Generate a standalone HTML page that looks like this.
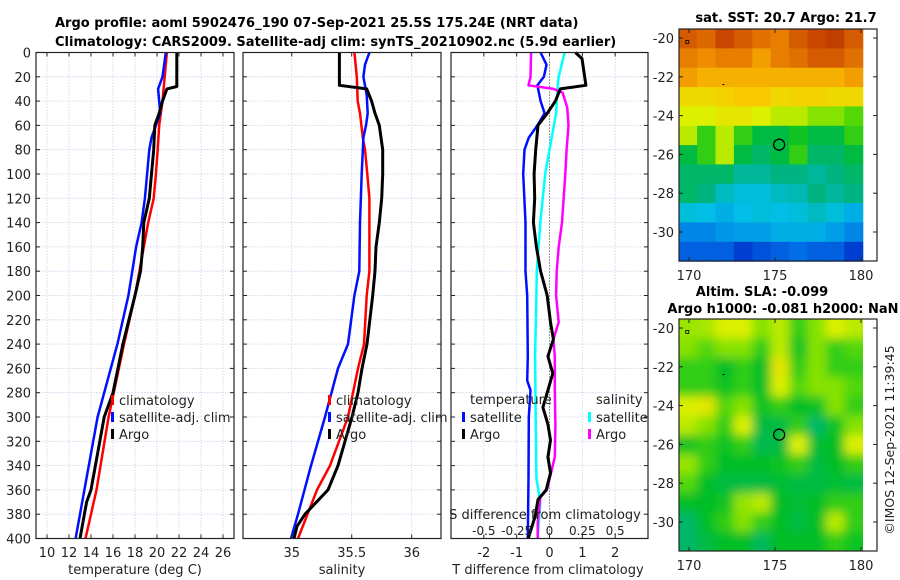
<!DOCTYPE html>
<html><head><meta charset="utf-8">
<style>
html,body{margin:0;padding:0;background:#fff;}
svg{display:block;font-family:"DejaVu Sans","Liberation Sans",sans-serif;}
</style></head>
<body>
<svg id="fig" width="900" height="580" viewBox="0 0 900 580">
<defs>
<filter id="blur" x="-10%" y="-10%" width="120%" height="120%"><feGaussianBlur stdDeviation="5"/></filter>
<clipPath id="slaclip"><rect x="679" y="319" width="184" height="232"/></clipPath>
</defs>
<rect x="0" y="0" width="900" height="580" fill="#fff"/>
<text x="55" y="27" font-size="13" font-weight="bold">Argo profile: aoml 5902476_190 07-Sep-2021 25.5S 175.24E (NRT data)</text>
<text x="55" y="46" font-size="13" font-weight="bold">Climatology: CARS2009. Satellite-adj clim: synTS_20210902.nc (5.9d earlier)</text>
<text x="786" y="22" text-anchor="middle" font-size="13" font-weight="bold">sat. SST: 20.7 Argo: 21.7</text>
<text x="762" y="296" text-anchor="middle" font-size="13" font-weight="bold">Altim. SLA: -0.099</text>
<text x="783" y="313" text-anchor="middle" font-size="13" font-weight="bold">Argo h1000: -0.081 h2000: NaN</text>
<text x="0" y="0" transform="translate(894,440) rotate(-90)" text-anchor="middle" font-size="12.5" fill="#222">©IMOS 12-Sep-2021 11:39:45</text>
<g id="layer"></g>
</svg>
<script>
// ---------- profile data ----------
const depthClimT = [0,40,60,80,100,120,140,160,180,200,240,300,360,400];
const tempClim   = [20.9,20.5,20.2,20.06,19.9,19.7,19.2,18.8,18.4,18.0,17.0,15.6,14.5,13.5];
const depthSatT  = [0,20,30,40,50,60,70,80,100,120,140,160,180,200,240,300,360,400];
const tempSat    = [20.8,20.5,20.1,20.2,20.3,19.9,19.5,19.3,19.1,18.9,18.6,18.1,17.75,17.4,16.4,14.6,13.4,12.6];
const depthArgoT = [0,28,30,35,40,50,60,80,100,120,140,160,180,200,240,280,300,360,370,400];
const tempArgo   = [21.8,21.8,20.9,20.7,20.5,20.2,19.8,19.7,19.5,19.3,18.8,18.7,18.5,18.0,16.9,16.0,15.2,14.0,13.6,13.0];

const depthClimS = [0,20,40,50,70,80,100,120,140,160,180,200,240,260,300,340,360,400];
const salClim    = [35.522,35.542,35.550,35.569,35.592,35.611,35.630,35.647,35.647,35.647,35.647,35.625,35.602,35.552,35.469,35.319,35.211,35.052];
const depthSatS  = [0,10,20,35,50,60,70,100,140,180,200,240,260,300,340,380,400];
const salSat     = [35.647,35.611,35.597,35.625,35.633,35.619,35.597,35.583,35.569,35.563,35.522,35.469,35.386,35.277,35.161,35.052,34.994];
const depthArgoS = [0,27,30,40,50,60,80,100,120,140,160,180,200,240,260,280,300,340,360,380,390,400];
const salArgo    = [35.397,35.397,35.625,35.666,35.694,35.730,35.758,35.758,35.750,35.730,35.702,35.694,35.675,35.627,35.586,35.552,35.502,35.386,35.302,35.111,35.044,35.019];

const depthDT    = [0,10,20,27,40,50,60,70,80,100,140,180,200,250,270,278,300,350,400];
const dTSat      = [-0.27,-0.09,-0.17,-0.37,-0.27,-0.15,-0.37,-0.63,-0.76,-0.8,-0.73,-0.73,-0.68,-0.66,-0.68,-0.58,-0.63,-0.64,-0.66];
const depthDTA   = [0,5,27,30,40,50,60,80,100,120,140,160,180,200,222,236,250,264,278,292,306,319,333,346,360,368,382,400];
const dTArgo     = [0.79,0.99,1.11,0.33,0.18,-0.07,-0.35,-0.42,-0.47,-0.45,-0.49,-0.4,-0.27,-0.07,0.03,0.12,-0.05,0.1,-0.05,-0.2,-0.05,0.03,-0.05,0.03,-0.1,-0.35,-0.44,-0.65];
const depthDS    = [0,20,30,50,80,100,140,180,200,250,300,350,370,400];
const dSSat      = [0.115,0.07,0.06,0.05,0.0,-0.033,-0.07,-0.097,-0.1,-0.11,-0.105,-0.1,-0.07,-0.09];
const depthDSA   = [0,20,27,30,33,45,60,80,100,140,160,180,200,222,236,250,278,306,333,360,366,387,400];
const dSArgo     = [-0.14,-0.145,-0.16,0.03,0.1,0.135,0.145,0.13,0.12,0.095,0.07,0.055,0.05,0.07,0.03,0.04,0.04,0.045,0.04,-0.02,-0.07,-0.09,-0.09];

// ---------- map data (palette index 0..1) ----------
const sstGrid = [
 [0.85,0.83,0.88,0.85,0.82,0.80,0.85,0.88,0.90,0.85],
 [0.80,0.78,0.80,0.80,0.75,0.80,0.82,0.85,0.85,0.82],
 [0.75,0.72,0.72,0.72,0.72,0.72,0.72,0.72,0.72,0.75],
 [0.65,0.65,0.66,0.68,0.68,0.65,0.66,0.66,0.65,0.65],
 [0.60,0.60,0.62,0.62,0.60,0.58,0.58,0.55,0.55,0.52],
 [0.58,0.50,0.58,0.50,0.45,0.45,0.48,0.45,0.45,0.50],
 [0.45,0.50,0.58,0.45,0.42,0.45,0.50,0.42,0.42,0.45],
 [0.42,0.42,0.42,0.38,0.38,0.40,0.40,0.38,0.40,0.42],
 [0.42,0.40,0.35,0.33,0.33,0.35,0.36,0.40,0.38,0.40],
 [0.33,0.32,0.30,0.32,0.33,0.32,0.33,0.35,0.33,0.30],
 [0.25,0.25,0.27,0.28,0.28,0.30,0.30,0.30,0.28,0.25],
 [0.20,0.20,0.20,0.15,0.18,0.20,0.22,0.20,0.20,0.15]];
const slaGrid = [
 [0.56,0.57,0.60,0.60,0.55,0.58,0.50,0.55,0.60,0.58],
 [0.55,0.52,0.55,0.55,0.50,0.58,0.48,0.55,0.50,0.52],
 [0.50,0.50,0.47,0.50,0.47,0.62,0.50,0.55,0.50,0.50],
 [0.50,0.50,0.48,0.50,0.47,0.60,0.52,0.55,0.55,0.52],
 [0.60,0.62,0.52,0.55,0.48,0.50,0.47,0.48,0.55,0.50],
 [0.58,0.55,0.50,0.60,0.45,0.45,0.50,0.42,0.48,0.55],
 [0.48,0.50,0.48,0.50,0.44,0.45,0.60,0.46,0.47,0.60],
 [0.56,0.50,0.47,0.47,0.47,0.48,0.50,0.45,0.47,0.50],
 [0.52,0.47,0.45,0.45,0.45,0.46,0.45,0.45,0.46,0.45],
 [0.47,0.47,0.48,0.56,0.58,0.47,0.46,0.47,0.50,0.50],
 [0.42,0.47,0.50,0.55,0.50,0.47,0.45,0.47,0.58,0.50],
 [0.42,0.45,0.47,0.47,0.43,0.47,0.47,0.47,0.50,0.48]];
const argoLon = [175.24];
const argoLat = [-25.5];

const NS='http://www.w3.org/2000/svg';
const layer=document.getElementById('layer');
function mk(tag,attrs,parent){const e=document.createElementNS(NS,tag);for(const k in attrs)e.setAttribute(k,attrs[k]);(parent||layer).appendChild(e);return e;}

const Y0=52.5,Y1=538.5;
const yD=d=>Y0+(d/400)*(Y1-Y0);
function scale(d0,d1,p0,p1){return v=>p0+(v-d0)/(d1-d0)*(p1-p0);}

function panelFrame(name){
  const g=mk('g',{});
  
  
  return g;
}
function gridAndFrame(g,x0,x1,xs){
  for(let d=20;d<400;d+=20){
    const l=mk('line',{x1:x0,x2:x1,y1:yD(d),y2:yD(d),stroke:'#c9d0e6','stroke-width':0.8,'stroke-dasharray':'1.5,1.5'},g);
    
    
  }
  xs.forEach(x=>{
    const l=mk('line',{x1:x,x2:x,y1:Y0,y2:Y1,stroke:'#c9d0e6','stroke-width':0.8,'stroke-dasharray':'1.5,1.5'},g);
    
    
  });
}
function frame(g,x0,x1,xs){
  for(let d=0;d<=400;d+=20){
    mk('line',{x1:x0,x2:x0+4,y1:yD(d),y2:yD(d),stroke:'#222','stroke-width':1},g);
    mk('line',{x1:x1-4,x2:x1,y1:yD(d),y2:yD(d),stroke:'#222','stroke-width':1},g);
  }
  xs.forEach(x=>{
    mk('line',{x1:x,x2:x,y1:Y1,y2:Y1-4,stroke:'#222','stroke-width':1},g);
    mk('line',{x1:x,x2:x,y1:Y0,y2:Y0+4,stroke:'#222','stroke-width':1},g);
  });
  const r=mk('rect',{x:x0,y:Y0,width:x1-x0,height:Y1-Y0,fill:'none',stroke:'#222','stroke-width':1.2},g);
  
  
}
function line(g,xs,ds,xf,color,w,name){
  const pts=xs.map((v,i)=>xf(v).toFixed(1)+','+yD(ds[i]).toFixed(1)).join(' ');
  const p=mk('polyline',{points:pts,fill:'none',stroke:color,'stroke-width':w,'stroke-linejoin':'round'},g);
  
  
}
function txt(g,x,y,s,attrs,name){
  const t=mk('text',Object.assign({x:x,y:y,'font-size':13,fill:'#222'},attrs||{}),g);
  t.textContent=s;
  
  
  return t;
}
function legendEntry(g,x,y,color,label,name){
  const r=mk('rect',{x:x,y:y-9,width:3,height:10,fill:color},g);
  
  
  txt(g,x+8,y+1,label,{},name);
}

// ---------- Panel 1: temperature ----------
const tTicks=[10,12,14,16,18,20,22,24,26];
const xT=scale(9,27,36,234);
{
  const g=panelFrame('temperature-panel');
  gridAndFrame(g,36,234,tTicks.map(xT));
  line(g,tempClim,depthClimT,xT,'#ff0000',2.5,'temp-climatology-line');
  line(g,tempSat,depthSatT,xT,'#0010ff',2.5,'temp-satellite-line');
  line(g,tempArgo,depthArgoT,xT,'#000',3,'temp-argo-line');
  frame(g,36,234,tTicks.map(xT));
  tTicks.forEach(v=>txt(g,xT(v),557,String(v),{'text-anchor':'middle'},'x-tick-label'));
  for(let d=0;d<=400;d+=20) txt(g,31,yD(d)+5,String(d),{'text-anchor':'end'},'y-tick-label');
  txt(g,135,574,'temperature (deg C)',{'text-anchor':'middle'},'temperature-axis-title');
  legendEntry(g,111,404,'#ff0000','climatology','legend-climatology');
  legendEntry(g,111,421,'#0010ff','satellite-adj. clim','legend-satellite');
  legendEntry(g,111,438,'#000','Argo','legend-argo');
}
// ---------- Panel 2: salinity ----------
const sTicks=[35,35.5,36];
const xS=scale(34.594,36.244,243,441);
{
  const g=panelFrame('salinity-panel');
  gridAndFrame(g,243,441,sTicks.map(xS));
  line(g,salClim,depthClimS,xS,'#ff0000',2.5,'sal-climatology-line');
  line(g,salSat,depthSatS,xS,'#0010ff',2.5,'sal-satellite-line');
  line(g,salArgo,depthArgoS,xS,'#000',3,'sal-argo-line');
  frame(g,243,441,sTicks.map(xS));
  sTicks.forEach(v=>txt(g,xS(v),557,String(v),{'text-anchor':'middle'},'x-tick-label'));
  txt(g,342,574,'salinity',{'text-anchor':'middle'},'salinity-axis-title');
  legendEntry(g,328,404,'#ff0000','climatology','legend-climatology');
  legendEntry(g,328,421,'#0010ff','satellite-adj. clim','legend-satellite');
  legendEntry(g,328,438,'#000','Argo','legend-argo');
}
// ---------- Panel 3: differences ----------
const dTicks=[-2,-1,0,1,2];
const sdTicks=[-0.5,-0.25,0,0.25,0.5];
const sdLabels=['-0.5','-0.25','0','0.25','0.5'];
const xDT=scale(-3,3,451,648);
const xDS=v=>xDT(v*4);
{
  const g=panelFrame('difference-panel');
  gridAndFrame(g,451,648,dTicks.map(xDT));
  const z=mk('line',{x1:xDT(0),x2:xDT(0),y1:Y0,y2:Y1,stroke:'#444','stroke-width':1,'stroke-dasharray':'1,2'},g);
  
  
  line(g,dTSat,depthDT,xDT,'#0010ff',2.5,'dT-satellite-line');
  line(g,dSSat,depthDS,xDS,'#00ffff',2.5,'dS-satellite-line');
  line(g,dSArgo,depthDSA,xDS,'#ff00ff',2.5,'dS-argo-line');
  line(g,dTArgo,depthDTA,xDT,'#000',3,'dT-argo-line');
  frame(g,451,648,dTicks.map(xDT));
  dTicks.forEach(v=>txt(g,xDT(v),557,String(v),{'text-anchor':'middle'},'x-tick-label'));
  txt(g,548,574,'T difference from climatology',{'text-anchor':'middle'},'t-difference-axis-title');
  txt(g,545,519,'S difference from climatology',{'text-anchor':'middle'},'s-difference-axis-title');
  sdTicks.forEach((v,i)=>txt(g,xDS(v),535,sdLabels[i],{'text-anchor':'middle','font-size':12},'s-tick-label'));
  txt(g,470,404,'temperature',{},'legend-temperature-header');
  legendEntry(g,462,421,'#0010ff','satellite','legend-temp-satellite');
  legendEntry(g,462,438,'#000','Argo','legend-temp-argo');
  txt(g,596,404,'salinity',{},'legend-salinity-header');
  legendEntry(g,588,421,'#00ffff','satellite','legend-sal-satellite');
  legendEntry(g,588,438,'#ff00ff','Argo','legend-sal-argo');
}

// ---------- Maps ----------
const stops=[[0,[0,0,130]],[0.12,[0,40,200]],[0.22,[0,110,230]],[0.32,[0,190,230]],[0.4,[0,180,130]],[0.47,[0,190,40]],[0.53,[100,220,0]],[0.6,[220,240,0]],[0.68,[250,200,0]],[0.78,[240,140,0]],[0.88,[200,70,0]],[1,[150,20,0]]];
function pal(t){
  t=Math.max(0,Math.min(1,t));
  for(let i=1;i<stops.length;i++){
    if(t<=stops[i][0]){
      const a=stops[i-1],b=stops[i],f=(t-a[0])/(b[0]-a[0]);
      const c=a[1].map((v,k)=>Math.round(v+(b[1][k]-v)*f));
      return 'rgb('+c.join(',')+')';
    }
  }
  return 'rgb(150,20,0)';
}
function drawMap(grid,top,name,smooth){
  const g=mk('g',{});
  
  
  const xL=lon=>775+(lon-175)*17.2;
  const yL=lat=>top+9+(-20-lat)*19.4;
  const lon0=169.4,lon1=180.1,lat0=-19.54;
  const nr=grid.length,nc=grid[0].length;
  const dlon=(lon1-lon0)/nc, dlat=(31.5-19.54)/nr;
  let cg=g;
  if(smooth){
    const clip=mk('g',{'clip-path':'url(#slaclip)'},g);
    cg=mk('g',{filter:'url(#blur)'},clip);
  }
  grid.forEach((row,r)=>row.forEach((v,c)=>{
    let x=xL(lon0+c*dlon),y=yL(lat0-r*dlat);
    let w=dlon*17.2+0.6,h=dlat*19.4+0.6;
    if(smooth){ if(c===0){x-=12;w+=12;} if(c===nc-1){w+=12;} if(r===0){y-=12;h+=12;} if(r===nr-1){h+=12;} }
    const cell=mk('rect',{x:x.toFixed(1),y:y.toFixed(1),width:w.toFixed(1),height:h.toFixed(1),fill:pal(v)},cg);
    
    
  }));
  const bx=679,bw=198,bh=232;
  const fr=mk('rect',{x:bx,y:top,width:bw,height:bh,fill:'none',stroke:'#222','stroke-width':1.2},g);
  
  
  [170,175,180].forEach(l=>{
    mk('line',{x1:xL(l),x2:xL(l),y1:top+bh,y2:top+bh-4,stroke:'#222'},g);
    mk('line',{x1:xL(l),x2:xL(l),y1:top,y2:top+4,stroke:'#222'},g);
    txt(g,xL(l),top+bh+19,String(l),{'text-anchor':'middle'},'lon-tick-label');
  });
  for(let la=-20;la>=-30;la-=2){
    mk('line',{x1:bx,x2:bx+4,y1:yL(la),y2:yL(la),stroke:'#222'},g);
    mk('line',{x1:bx+bw-4,x2:bx+bw,y1:yL(la),y2:yL(la),stroke:'#222'},g);
    txt(g,674,yL(la)+5,String(la),{'text-anchor':'end'},'lat-tick-label');
  }
  mk('rect',{x:xL(169.9)-1.5,y:yL(-20.2)-1.5,width:3,height:3,fill:'none',stroke:'#000','stroke-width':0.8},g);
  mk('line',{x1:xL(172)-1,x2:xL(172)+1,y1:yL(-22.4),y2:yL(-22.4),stroke:'#000'},g);
  argoLon.forEach((lo,i)=>{
    const c=mk('circle',{cx:xL(lo),cy:yL(argoLat[i]),r:5.5,fill:'none',stroke:'#000','stroke-width':1.3},g);
    
    
  });
}
drawMap(sstGrid,29,'sst-map',false);
drawMap(slaGrid,319,'sla-map',true);
</script>
</body></html>
